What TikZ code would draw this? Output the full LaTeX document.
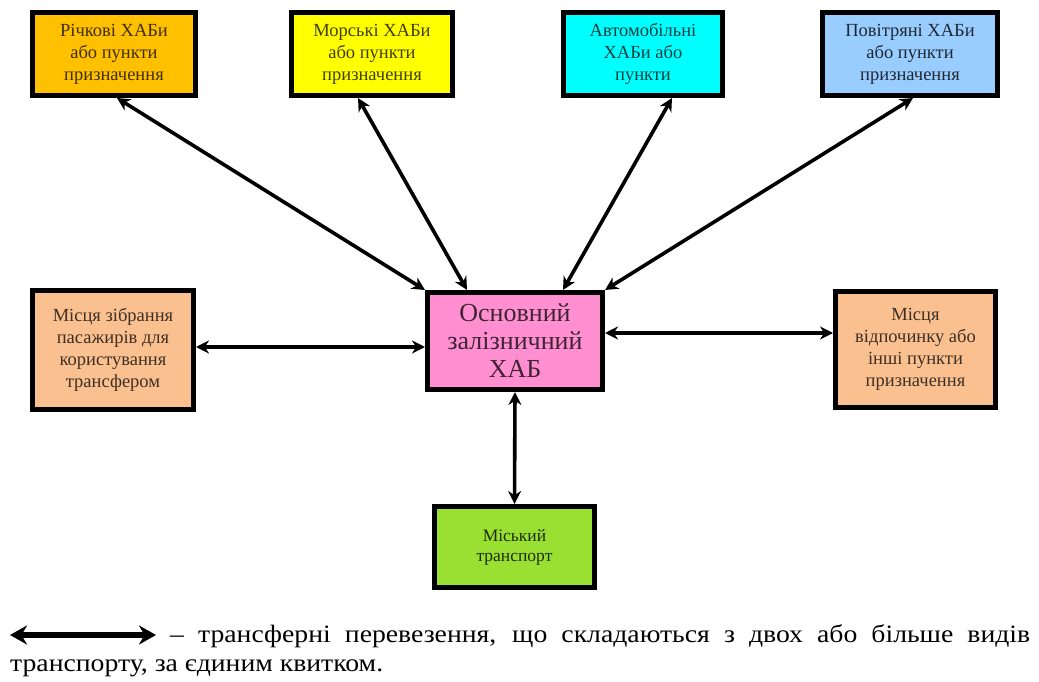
\documentclass[tikz,border=0pt]{standalone}
\usepackage{fontspec}
\setmainfont{Liberation Serif}
\usetikzlibrary{arrows.meta,calc}
\definecolor{cRiver}{HTML}{FFC000}
\definecolor{cSea}{HTML}{FFFF00}
\definecolor{cAuto}{HTML}{00FFFF}
\definecolor{cAir}{HTML}{99CCFF}
\definecolor{cMain}{HTML}{FF8FD0}
\definecolor{cPeach}{HTML}{FAC090}
\definecolor{cCity}{HTML}{99E033}
\newlength\legw
\newcommand\legfont{\fontsize{25}{29}\selectfont}
\tikzset{
  hubbox/.style={draw=black, line width=5pt, outer sep=2.5pt, inner sep=0pt,
    align=center, font=\fontsize{18.5}{22}\selectfont},
  mainbox/.style={hubbox, font=\fontsize{26}{28}\selectfont},
  arr/.style={line width=3.6pt, {Stealth[length=13pt,width=13pt]}-{Stealth[length=13pt,width=13pt]}},
  legarr/.style={line width=6pt, {Stealth[length=17pt,width=19pt]}-{Stealth[length=17pt,width=19pt]}},
  legtext/.style={anchor=base west, inner sep=0pt, font=\legfont}
}
\begin{document}
\settowidth\legw{\legfont транспорту, за єдиним квитком.}
\begin{tikzpicture}[x=1pt,y=-1pt]
\useasboundingbox[fill=white] (0,0) rectangle (1039,682);

% top row
\node[hubbox, fill=cRiver, text=cRiver!25!black, minimum width=163pt, minimum height=83pt] (b1) at (114,54)
  {Річкові ХАБи\\або пункти\\призначення};
\node[hubbox, fill=cSea, text=cSea!25!black, minimum width=161pt, minimum height=83pt] (b2) at (372,54)
  {Морські ХАБи\\або пункти\\призначення};
\node[hubbox, fill=cAuto, text=cAuto!25!black, minimum width=159pt, minimum height=83pt] (b3) at (643,54)
  {Автомобільні\\ХАБи або\\пункти};
\node[hubbox, fill=cAir, text=cAir!20!black, minimum width=175pt, minimum height=83pt] (b4) at (910,54)
  {Повітряні ХАБи\\або пункти\\призначення};

% middle row
\node[hubbox, fill=cPeach, text=cPeach!25!black, minimum width=161pt, minimum height=119pt] (ml) at (113,350)
  {Місця зібрання\\пасажирів для\\користування\\трансфером};
\node[mainbox, fill=cMain, text=cMain!25!black, minimum width=175pt, minimum height=97pt] (c) at (515,341)
  {Основний\\залізничний\\ХАБ};
\node[hubbox, fill=cPeach, text=cPeach!25!black, minimum width=160pt, minimum height=116pt] (mr) at (915.5,349.5)
  {Місця\\відпочинку або\\інші пункти\\призначення};

% bottom
\node[hubbox, fill=cCity, text=cCity!20!black, font=\fontsize{17.5}{20}\selectfont, minimum width=160pt, minimum height=81pt] (g) at (514.5,547)
  {Міський\\транспорт};

% connectors
\draw[arr] ([xshift=87pt]b1.south west) -- (c.north west);
\draw[arr] ([xshift=69pt]b2.south west) -- ([xshift=42pt]c.north west);
\draw[arr] ([xshift=111pt]b3.south west) -- ([xshift=138pt]c.north west);
\draw[arr] ([xshift=93pt]b4.south west) -- (c.north east);
\coordinate (cl) at ([yshift=-6pt]c.west);
\coordinate (cr) at ([yshift=8pt]c.east);
\draw[arr] (ml.east |- cl) -- (cl);
\draw[arr] (cr) -- (mr.west |- cr);
\draw[arr] (c.south) -- (g.north);

% legend
\coordinate (la) at (10,635);
\coordinate (lb) at (156,635);
\draw[legarr] (la) -- (lb);
\node[legtext] (lt1) at (170,642)
  {\resizebox{860pt}{\height}{\makebox[\dimexpr\legw*860/373\relax][s]{– трансферні перевезення, що складаються з двох або більше видів}}};
\node[legtext] (lt2) at (10,671)
  {\resizebox{373pt}{\height}{транспорту, за єдиним квитком.}};
\end{tikzpicture}
\end{document}
